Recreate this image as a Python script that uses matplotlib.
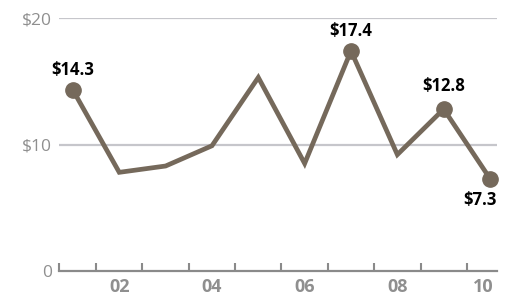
"""Line chart: yearly price with highlighted points"""

import matplotlib
from matplotlib import pyplot as plt
from matplotlib import transforms

matplotlib.use("Agg")

years = [2001, 2002, 2003, 2004, 2005, 2006, 2007, 2008, 2009, 2010]
values = [14.3, 7.8, 8.3, 9.9, 15.3, 8.5, 17.4, 9.2, 12.8, 7.3]

# points that get a dot and a label, with label offset in points
highlight_years = [2001, 2007, 2009, 2010]
highlight_labels = ["$14.3", "$17.4", "$12.8", "$7.3"]
label_offsets = [(0, 8), (0, 8), (0, 10), (-7, -9)]

xtick_years = [2002, 2004, 2006, 2008, 2010]
xtick_labels = ["02", "04", "06", "08", "10"]
ytick_values = [0, 10, 20]
ytick_labels = ["0", "$10", "$20"]

LINE = "#75695b"
GRID = "#c6c6cb"
AXIS = "#8a8a8a"
TEXT = "#8f8f8f"

plt.rcParams["font.family"] = ["Open Sans", "DejaVu Sans"]

fig = plt.figure(figsize=(5.1, 2.97), dpi=100)
ax = fig.add_axes([59 / 510, 26 / 297, (497 - 59) / 510, (271 - 18) / 297])

ax.plot(years, values, color=LINE, linewidth=3.4, solid_joinstyle="miter", clip_on=False, zorder=3)

hx = [years.index(y) for y in highlight_years]
ax.plot(
    [years[i] for i in hx],
    [values[i] for i in hx],
    "o",
    color=LINE,
    markersize=11,
    clip_on=False,
    zorder=4,
)
for i, text, (dx, dy) in zip(hx, highlight_labels, label_offsets):
    ax.annotate(
        text.replace("$", r"\$"),
        (years[i], values[i]),
        xytext=(dx, dy),
        textcoords="offset points",
        ha="center",
        va="bottom" if dy > 0 else "top",
        fontsize=12,
        fontweight="bold",
        color="black",
        zorder=5,
    )

ax.set_xlim(2000.7, 2010.15)
ax.set_ylim(0, 20)

for v in ytick_values[1:]:
    ax.axhline(v, color=GRID, linewidth=1.6, zorder=1)

for side in ["top", "right", "left"]:
    ax.spines[side].set_visible(False)
ax.spines["bottom"].set_color(AXIS)
ax.spines["bottom"].set_linewidth(1.6)

ax.set_yticks(ytick_values)
ax.set_yticklabels([t.replace("$", r"\$") for t in ytick_labels])
ax.tick_params(axis="y", length=0, pad=5, labelsize=12.5, labelcolor=TEXT)

ax.set_xticks(xtick_years)
ax.set_xticklabels(xtick_labels, fontweight="bold")
ax.tick_params(axis="x", which="major", length=0, pad=5, labelsize=13, labelcolor=TEXT)
minor = [2000.7] + [y + 0.5 for y in years[:-1]]
ax.set_xticks(minor, minor=True)
ax.tick_params(axis="x", which="minor", direction="in", length=5.5, width=1.5, color=AXIS)

# last label sits a bit left of its year
last = ax.get_xticklabels()[-1]
last.set_transform(last.get_transform() + transforms.ScaledTranslation(-5 / 72, 0, fig.dpi_scale_trans))

fig.savefig("out.png", dpi=100)
